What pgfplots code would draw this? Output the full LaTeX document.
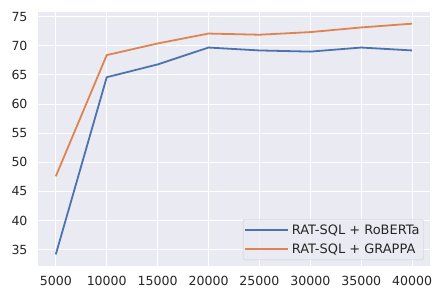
\documentclass[border=0pt]{standalone}
\usepackage{pgfplots}
\pgfplotsset{compat=1.18}
\usepackage{fontspec}
\setmainfont{DejaVu Sans}
\definecolor{sbblue}{HTML}{4C72B0}
\definecolor{sborange}{HTML}{DD8452}
\definecolor{sbbg}{HTML}{EAEAF2}
\definecolor{sbtext}{HTML}{262626}
\begin{document}
\begin{tikzpicture}
\begin{axis}[
  at={(0bp,0bp)}, anchor=south west,
  scale only axis, width=392bp, height=254bp,
  xmin=3250, xmax=41750, ymin=32.2, ymax=75.8,
  axis background/.style={fill=sbbg},
  axis line style={draw=none},
  grid=major, major grid style={white, line width=1bp},
  tick style={draw=none},
  xtick={5000,10000,...,40000}, ytick={35,40,...,75},
  scaled x ticks=false,
  /pgf/number format/1000 sep={},
  /pgf/number format/assume math mode=true,
  tick label style={font=\fontsize{12.6}{15}\selectfont, text=sbtext},
  yticklabel style={xshift=-7bp},
  xticklabel style={yshift=-7bp},
  legend style={at={(rel axis cs:0.984,0.0236)}, anchor=south east,
    fill=sbbg, fill opacity=0.8, text opacity=1, draw=black!20,
    rounded corners=2bp, font=\fontsize{13}{15}\selectfont, text=sbtext,
    row sep=3.5bp, inner xsep=1bp, inner ysep=3.3bp,
    nodes={inner xsep=3bp, inner ysep=2bp}},
  legend cell align=left,
  legend image code/.code={\path (-5bp,0bp) -- (38bp,0bp);\draw[#1, line width=1.8bp] (0bp,0bp) -- (27bp,0bp);},
]
\addplot[sbblue, line width=1.8bp] coordinates {
(5000,34.2) (10000,64.6) (15000,66.8) (20000,69.7) (25000,69.2) (30000,69.0) (35000,69.7) (40000,69.2)};
\addlegendentry{RAT-SQL + RoBERTa}
\addplot[sborange, line width=1.8bp] coordinates {
(5000,47.6) (10000,68.4) (15000,70.4) (20000,72.1) (25000,71.9) (30000,72.35) (35000,73.15) (40000,73.8)};
\addlegendentry{RAT-SQL + GRAPPA}
\end{axis}
\path[use as bounding box] (-38bp,-26bp) rectangle (398bp,266bp);
\end{tikzpicture}
\end{document}
